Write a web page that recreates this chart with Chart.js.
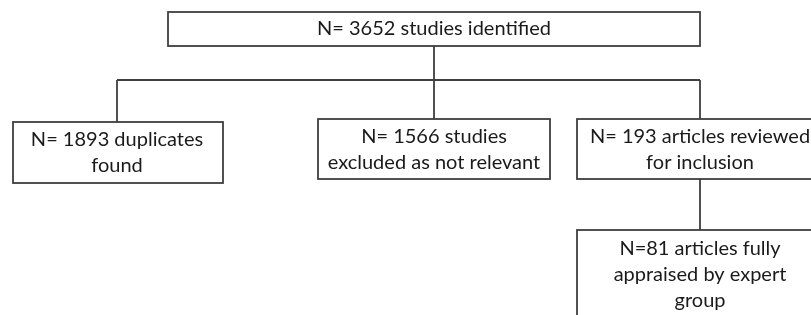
<!DOCTYPE html>
<html><head><meta charset="utf-8">
<script src="https://cdn.jsdelivr.net/npm/chart.js@4"></script>
<style>html,body{margin:0;padding:0;background:#fff;overflow:hidden}</style>
</head><body>
<canvas id="c" width="811" height="315"></canvas>
<script>
// ---- data ----
const stageCounts = [3652, 1893, 1566, 193, 81];
const stageText = [
  ["N= {n} studies identified"],
  ["N= {n} duplicates", "found"],
  ["N= {n} studies", "excluded as not relevant"],
  ["N= {n} articles reviewed", "for inclusion"],
  ["N={n} articles fully", "appraised by expert", "group"]
];
const stageParent = [null, 0, 0, 0, 3];

// ---- layout (scale units, 0..811 x 0..315) ----
const boxes = [
  {x0:168, x1:700, y0:12,  y1:46,  cx:434},
  {x0:13,  x1:223, y0:122, y1:183, cx:117},
  {x0:318, x1:550, y0:119, y1:179, cx:434},
  {x0:577, x1:823, y0:119, y1:179, cx:700},
  {x0:577, x1:823, y0:230, y1:345, cx:700}
];
const busY = 80;
const lineGap = 26;
const textTop = [29, 140, 137, 137, 249];
const ink = '#3f3f3f';

// connectors built from the tree
const connectorSets = [];
const rootKids = stageParent.map((p,i)=>p===0?i:-1).filter(i=>i>=0);
connectorSets.push([{x:boxes[0].cx,y:boxes[0].y1},{x:boxes[0].cx,y:busY}]);
connectorSets.push([{x:Math.min(...rootKids.map(i=>boxes[i].cx)),y:busY},{x:Math.max(...rootKids.map(i=>boxes[i].cx)),y:busY}]);
rootKids.forEach(i=>connectorSets.push([{x:boxes[i].cx,y:busY},{x:boxes[i].cx,y:boxes[i].y0}]));
stageParent.forEach((p,i)=>{
  if(p!==null && p!==0) connectorSets.push([{x:boxes[p].cx,y:boxes[p].y1},{x:boxes[i].cx,y:boxes[i].y0}]);
});

const boxPlugin = {
  id:'boxes',
  afterDatasetsDraw(chart){
    const {ctx, scales:{x,y}} = chart;
    ctx.save();
    ctx.strokeStyle = ink;
    ctx.lineWidth = 1.8;
    boxes.forEach((b,i)=>{
      const px0=x.getPixelForValue(b.x0), px1=x.getPixelForValue(b.x1);
      const py0=y.getPixelForValue(b.y0), py1=y.getPixelForValue(b.y1);
      ctx.fillStyle='#fff';
      ctx.fillRect(px0,py0,px1-px0,py1-py0);
      ctx.strokeRect(px0,py0,px1-px0,py1-py0);
      ctx.fillStyle='#1a1a1a';
      ctx.font = '20px Lato, "Liberation Sans", sans-serif';
      ctx.textAlign='center';
      ctx.textBaseline='middle';
      stageText[i].forEach((t,k)=>{
        const s = t.replace('{n}', stageCounts[i]);
        ctx.fillText(s, x.getPixelForValue(b.cx), y.getPixelForValue(textTop[i]+k*lineGap));
      });
    });
    ctx.restore();
  }
};

new Chart(document.getElementById('c'), {
  type:'scatter',
  data:{datasets: connectorSets.map(d=>({data:d, showLine:true, borderColor:ink, borderWidth:1.8, pointRadius:0, fill:false}))},
  options:{
    responsive:false, animation:false,
    layout:{padding:0},
    scales:{
      x:{type:'linear', min:0, max:811, display:false},
      y:{type:'linear', min:0, max:315, reverse:true, display:false}
    },
    plugins:{legend:{display:false}, tooltip:{enabled:false}}
  },
  plugins:[boxPlugin]
});
</script>
</body></html>
